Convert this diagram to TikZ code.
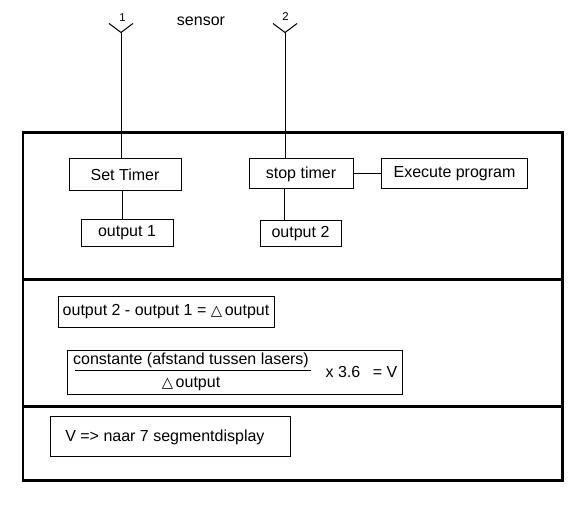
\documentclass[tikz,border=0pt]{standalone}
\usepackage{fontspec}
\setmainfont{Liberation Sans}
\newfontfamily\symfont{DejaVu Sans}
\newcommand{\tri}{{\symfont\fontsize{11}{11}\selectfont △}}
\begin{document}
\begin{tikzpicture}[x=0.75pt,y=-0.75pt,
  txt/.style={font=\fontsize{12}{14}\selectfont,inner sep=0pt},
  box/.style={draw,line width=0.75pt,inner sep=0pt,font=\fontsize{12}{14}\selectfont},
  wire/.style={line width=0.75pt},
  frame/.style={line width=1.9pt},
  small/.style={font=\fontsize{8.5}{9}\selectfont,inner sep=0pt}]
\useasboundingbox[fill=white] (0,0) rectangle (581,520);
% frame
\draw[frame] (23,132.5) rectangle (562.5,480.5);
\draw[frame] (23,279.5) -- (562.5,279.5);
\draw[frame] (23,406.5) -- (562.5,406.5);
% antennas
\coordinate (a1) at (121,32.5);
\coordinate (a1l) at (109,23.5);
\coordinate (a1r) at (133,23.5);
\coordinate (a2) at (285,32.5);
\coordinate (a2l) at (273,23.5);
\coordinate (a2r) at (297,23.5);
\draw[wire] (a1l) -- (a1) -- (a1r);
\draw[wire] (a2l) -- (a2) -- (a2r);
\node[small] (l1) at (122.5,18) {1};
\node[small] (l2) at (285.5,17) {2};
\node[txt] (sensor) at (201,21) {sensor};
% boxes
\node[box,minimum width=84pt,minimum height=24pt] (set) at (125,175) {\raisebox{-1pt}{Set Timer}};
\node[box,minimum width=69pt,minimum height=20.25pt] (out1) at (127,233) {\raisebox{-1pt}{output 1}};
\node[box,minimum width=78pt,minimum height=22.5pt] (stop) at (301,174) {stop timer};
\node[box,minimum width=109.5pt,minimum height=22.5pt] (exec) at (454.5,174) {Execute program};
\node[box,minimum width=60.75pt,minimum height=19.5pt] (out2) at (300.5,233.5) {output 2};
\draw[wire] (a1) -- (a1 |- set.north);
\draw[wire] (a2) -- (a2 |- stop.north);
\draw[wire] (set.south -| 122,0) -- (out1.north -| 122,0);
\draw[wire] (stop.south -| 284,0) -- (out2.north -| 284,0);
\draw[wire] (stop.east) -- (exec.west);
% formula section
\node[box,minimum width=162pt,minimum height=23.25pt] (diff) at (166,311.5) {\raisebox{-1pt}{output 2 - output 1 = \tri\,output}};
\node[box,minimum width=251.25pt,minimum height=33pt] (form) at (235,372) {};
\node[txt] (num) at (191,360) {constante (afstand tussen lasers)};
\node[txt] (den) at (191,384) {\tri\,output};
\coordinate (fl) at (75,370.5);
\coordinate (fr) at (311,370.5);
\draw[wire] (fl) -- (fr);
\node[txt] (mul) at (343,372) {x 3.6};
\node[txt] (eq) at (385,372) {= V};
% display
\node[box,minimum width=180pt,minimum height=30pt] (disp) at (170.5,436) {};
\node[txt,anchor=west] (dtxt) at (65,437) {V => naar 7 segmentdisplay};
\end{tikzpicture}
\end{document}
